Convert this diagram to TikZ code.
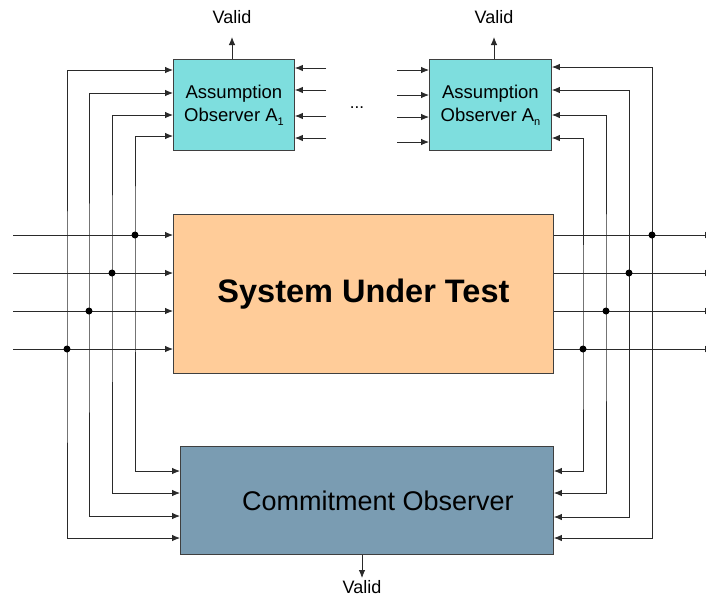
\documentclass[tikz,border=0pt]{standalone}
\usepackage{fontspec}
\setmainfont{Liberation Sans}
\usetikzlibrary{arrows.meta,calc}

\definecolor{obscyan}{HTML}{7EDEDE}
\definecolor{sutpeach}{HTML}{FFCC99}
\definecolor{costeel}{HTML}{7A9CB2}
\definecolor{wirecol}{HTML}{2A2A2A}

\newcommand{\obsidx}[1]{\raisebox{-4pt}{\fontsize{11}{11}\selectfont #1}}

\tikzset{
  box/.style={draw=wirecol!90, line width=0.9pt, rectangle, inner sep=0pt,
              anchor=north west, align=center},
  wire/.style={draw=wirecol, line width=0.85pt},
  tip/.tip={Latex[length=8pt,width=6.5pt]},
  arr/.style={wire, -tip},
  biarr/.style={wire, tip-tip},
  junction/.style={fill=black},
  lbl/.style={inner sep=0pt, font=\fontsize{18}{18}\selectfont},
}

\begin{document}
\begin{tikzpicture}[x=1pt, y=-1pt]
  \useasboundingbox (0,0) rectangle (706,598);
  \clip (0,0) rectangle (706,598);
  \fill[white] (0,0) rectangle (706,598);

  % ---- blocks ----
  \node[box, fill=obscyan, minimum width=121pt, minimum height=91pt,
        font=\fontsize{18.5}{23}\selectfont] (a1) at (173,59)
        {Assumption\\Observer A\obsidx{1}};
  \node[box, fill=obscyan, minimum width=122pt, minimum height=91pt,
        font=\fontsize{18.5}{23}\selectfont] (an) at (429,59)
        {Assumption\\Observer A\obsidx{n}};
  \node[box, fill=sutpeach, minimum width=380pt, minimum height=159pt,
        font=\fontsize{32.5}{38}\selectfont\bfseries] (sut) at (173,214)
        {System Under Test};
  \node[box, fill=costeel, minimum width=373pt, minimum height=108pt,
        font=\fontsize{27}{32}\selectfont] (co) at (180,446)
        {\hspace*{22pt}Commitment Observer};

  \node[inner sep=0pt, font=\fontsize{17}{17}\selectfont] (dots) at (357,108) {...};

  % ---- verdict outputs ----
  \coordinate (va1) at (232,37);
  \coordinate (van) at (494,37);
  \coordinate (vco) at (362,578);
  \draw[arr] (a1.north -| va1) -- (va1);
  \draw[arr] (an.north -| van) -- (van);
  \draw[arr] (co.south -| vco) -- (vco);
  \node[lbl] (va1t) at (232,17) {Valid};
  \node[lbl] (vant) at (494,17) {Valid};
  \node[lbl] (vcot) at (362,587) {Valid};

  % ---- system inputs (left) and outputs (right) ----
  \coordinate (i1) at (13,235);
  \coordinate (i2) at (13,273);
  \coordinate (i3) at (13,311);
  \coordinate (i4) at (13,349);
  \foreach \r in {1,...,4} {
    \draw[arr] (i\r) -- (sut.west |- i\r);
  }
  \coordinate (o1) at (713,235);
  \coordinate (o2) at (713,273);
  \coordinate (o3) at (713,311);
  \coordinate (o4) at (713,349);
  \foreach \r in {1,...,4} {
    \draw[arr] (sut.east |- o\r) -- (o\r);
  }

  % ---- taps on the input lines (left buses) ----
  \coordinate (l1) at (135,235);
  \coordinate (l2) at (112,273);
  \coordinate (l3) at (89,311);
  \coordinate (l4) at (67,349);
  \draw[biarr] ([yshift=-77pt]a1.north west) -| (l1) |- ([yshift=-25pt]co.north west);
  \draw[biarr] ([yshift=-56pt]a1.north west) -| (l2) |- ([yshift=-47pt]co.north west);
  \draw[biarr] ([yshift=-34pt]a1.north west) -| (l3) |- ([yshift=-70pt]co.north west);
  \draw[biarr] ([yshift=-11pt]a1.north west) -| (l4) |- ([yshift=-92pt]co.north west);

  % ---- taps on the output lines (right buses) ----
  \coordinate (r1) at (652,235);
  \coordinate (r2) at (629,273);
  \coordinate (r3) at (606,311);
  \coordinate (r4) at (583,349);
  \draw[biarr] ([yshift=-8pt]an.north east) -| (r1) |- ([yshift=-92pt]co.north east);
  \draw[biarr] ([yshift=-31pt]an.north east) -| (r2) |- ([yshift=-71pt]co.north east);
  \draw[biarr] ([yshift=-56pt]an.north east) -| (r3) |- ([yshift=-47pt]co.north east);
  \draw[biarr] ([yshift=-79pt]an.north east) -| (r4) |- ([yshift=-25pt]co.north east);

  \foreach \p in {l1,l2,l3,l4,r1,r2,r3,r4} {
    \fill[junction] (\p) circle (3.5pt);
  }

  % ---- further observer inputs (stubs) ----
  \coordinate (s1) at (326,68);
  \coordinate (s2) at (326,90);
  \coordinate (s3) at (326,116);
  \coordinate (s4) at (326,138);
  \foreach \r in {1,...,4} {
    \draw[arr] (s\r) -- (a1.east |- s\r);
  }
  \coordinate (t1) at (397,70);
  \coordinate (t2) at (397,95);
  \coordinate (t3) at (397,117);
  \coordinate (t4) at (397,142);
  \foreach \r in {1,...,4} {
    \draw[arr] (t\r) -- (an.west |- t\r);
  }
\end{tikzpicture}
\end{document}
